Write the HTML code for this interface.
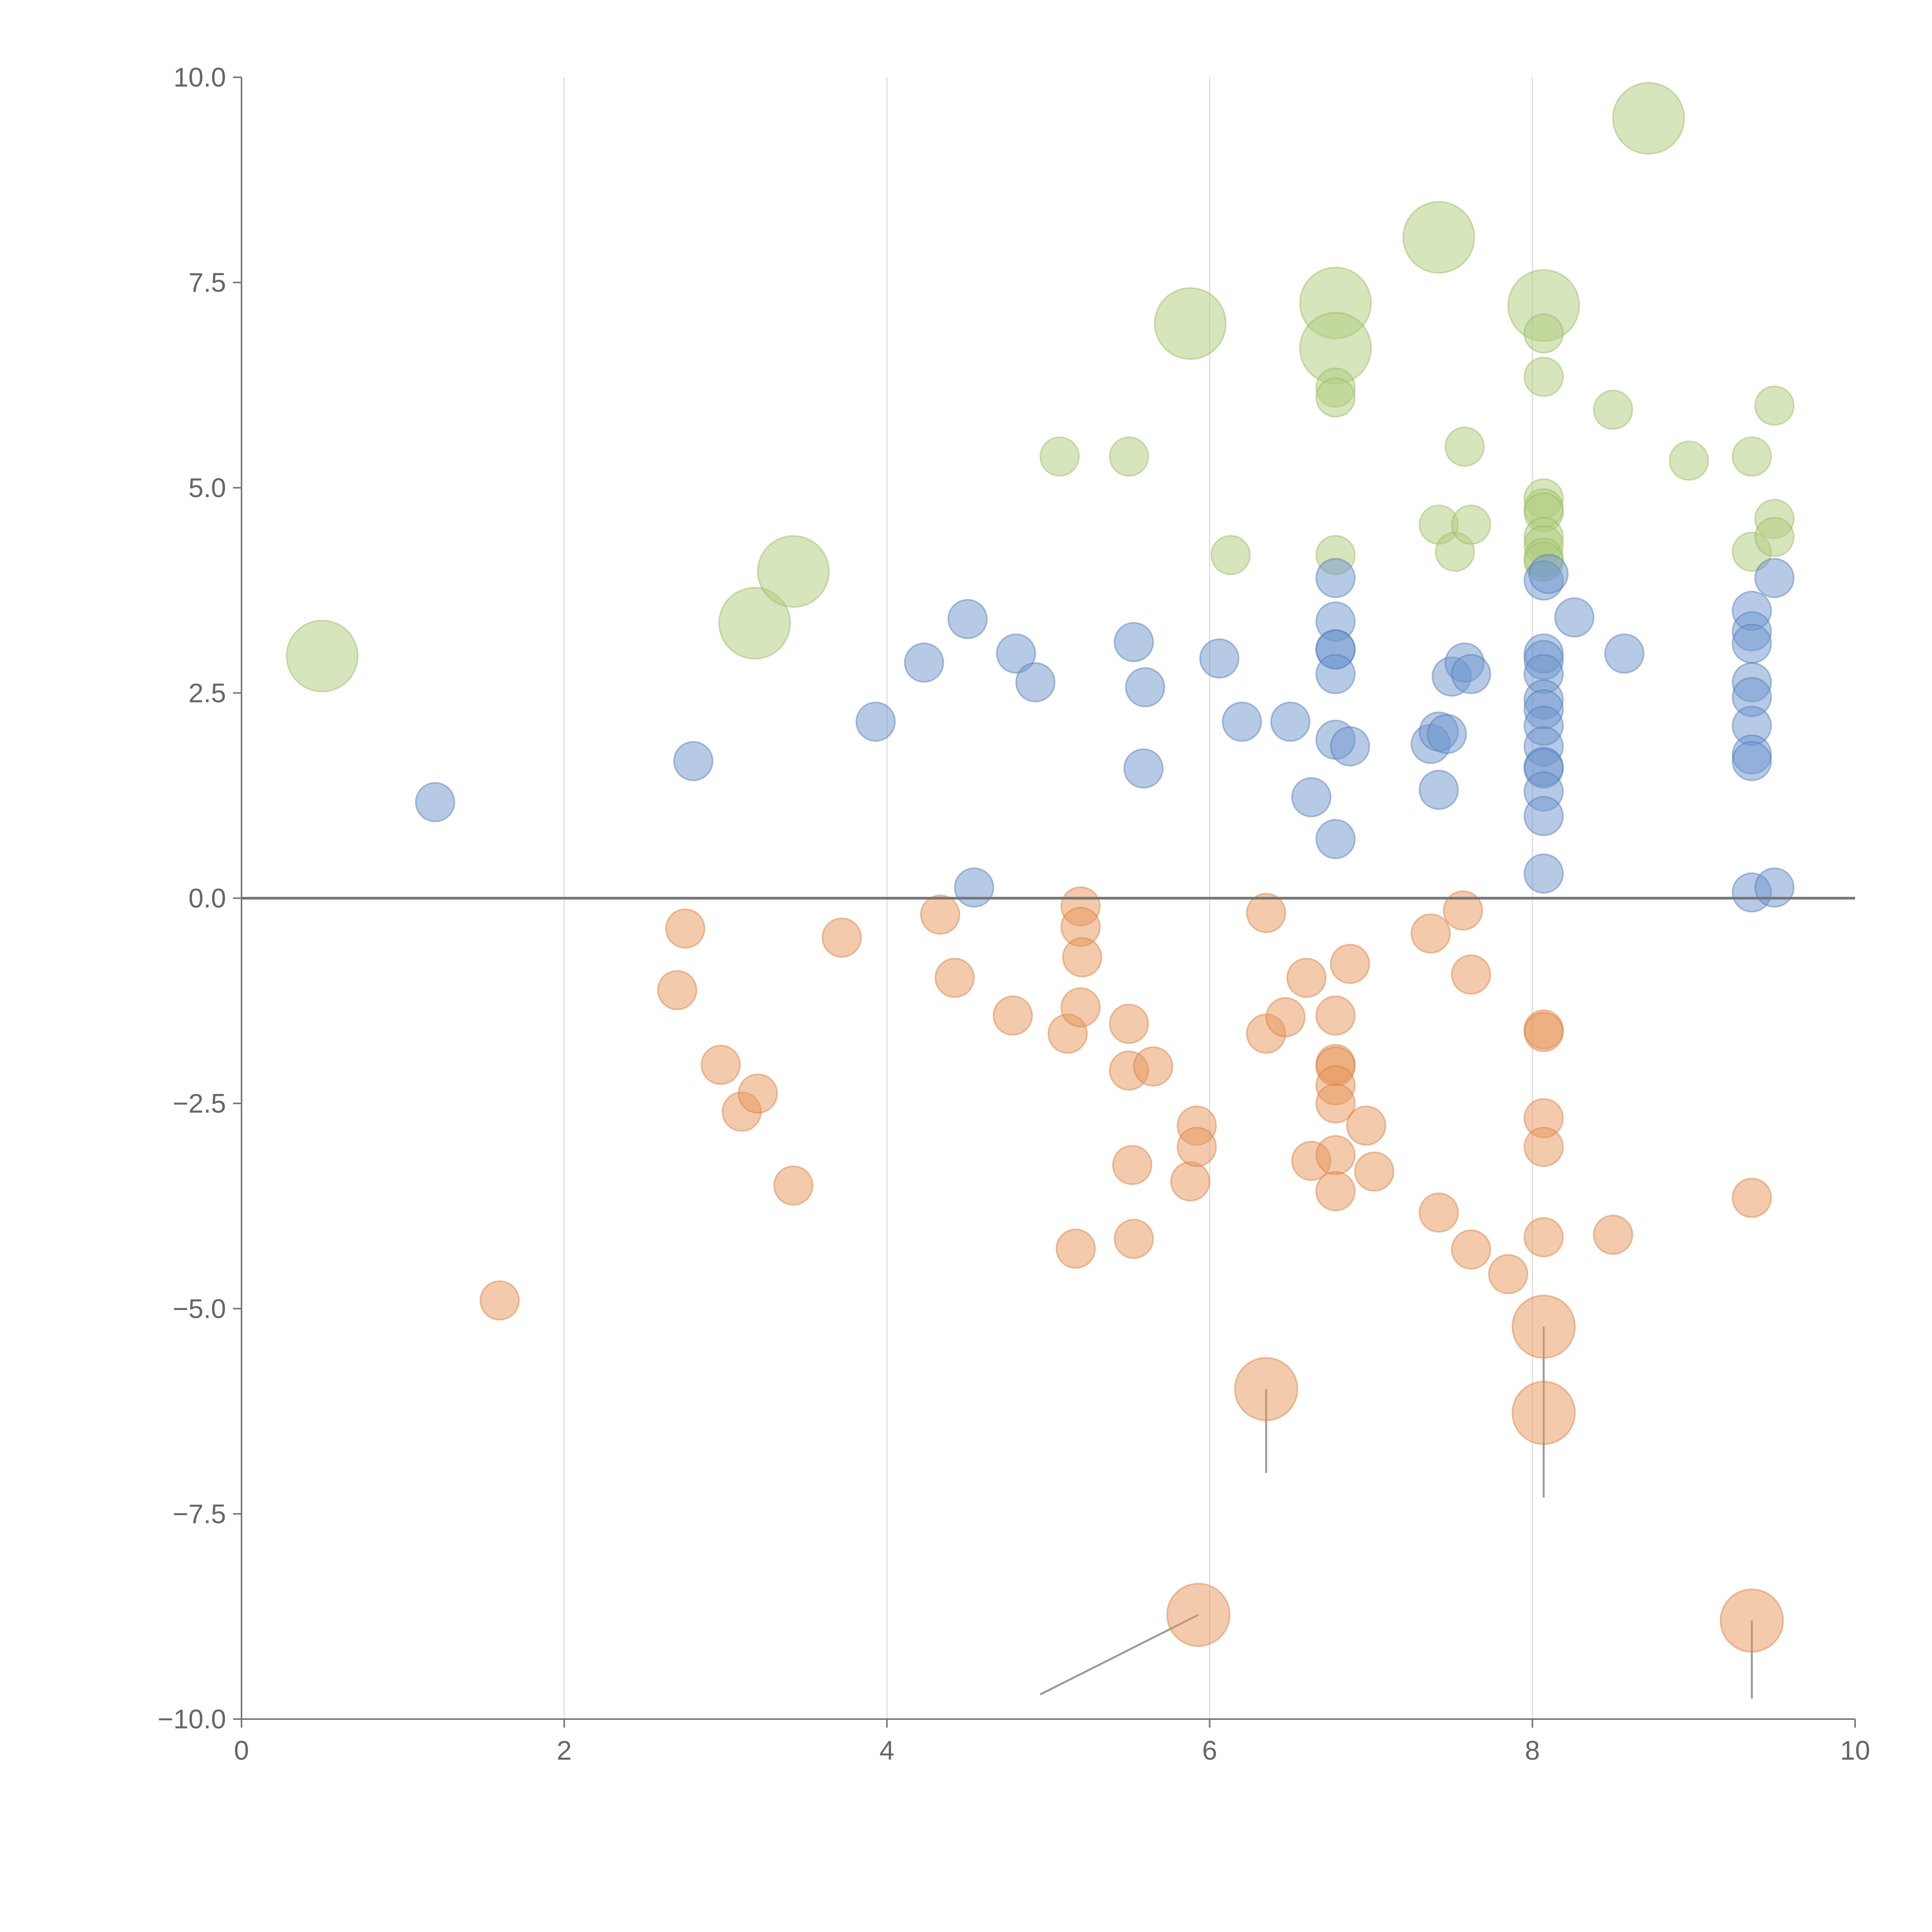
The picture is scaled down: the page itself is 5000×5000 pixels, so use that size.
<!DOCTYPE html>
<html><head><meta charset="utf-8"><style>
html,body{margin:0;padding:0;background:#fff;width:5000px;height:5000px;overflow:hidden}
svg{display:block}
svg text{font-family:"Liberation Sans",sans-serif;fill:#666}
</style></head><body>
<svg id="chart" width="5000" height="5000" viewBox="0 0 5000 5000" xmlns="http://www.w3.org/2000/svg"></svg>
<script>
const xTicks=[0,2,4,6,8,10];
const xTickLabels=["0","2","4","6","8","10"];
const yTicks=[10,7.5,5,2.5,0,-2.5,-5,-7.5,-10];
const yTickLabels=["10.0","7.5","5.0","2.5","0.0","\u22122.5","\u22125.0","\u22127.5","\u221210.0"];
const blueX=[1.2,2.8,3.93,4.23,4.5,4.8,4.92,4.54,5.53,5.6,5.59,6.06,6.2,6.5,6.63,6.78,6.78,6.78,6.78,6.78,6.78,6.87,6.78,7.37,7.42,7.47,7.42,7.5,7.58,7.62,8.07,8.1,8.07,8.07,8.07,8.07,8.07,8.07,8.07,8.07,8.07,8.07,8.07,8.07,8.26,8.57,9.36,9.36,9.36,9.36,9.36,9.36,9.36,9.36,9.36,9.5,9.5];
const blueY=[1.17,1.67,2.15,2.87,3.4,2.98,2.63,0.13,3.12,2.57,1.58,2.92,2.15,2.15,1.23,3.9,3.37,3.03,3.03,2.73,1.93,1.85,0.72,1.88,2.03,2.0,1.32,2.7,2.87,2.73,3.87,3.95,2.98,2.9,2.73,2.42,2.3,2.1,1.85,1.6,1.58,1.3,1.0,0.3,3.42,2.98,3.5,3.25,3.1,2.63,2.45,2.1,1.75,1.67,0.07,3.9,0.13];
const orangeX=[1.6,2.7,2.75,2.97,3.1,3.2,3.42,3.72,4.33,4.42,4.78,5.12,5.17,5.2,5.2,5.21,5.2,5.5,5.5,5.52,5.53,5.65,5.88,5.92,5.92,6.35,6.35,6.47,6.6,6.63,6.78,6.78,6.78,6.78,6.78,6.78,6.78,6.87,6.97,7.02,7.37,7.42,7.57,7.62,7.62,7.85,8.07,8.07,8.07,8.07,8.07,8.5,9.36];
const orangeY=[-4.9,-1.12,-0.37,-2.03,-2.6,-2.38,-3.5,-0.48,-0.2,-0.97,-1.43,-1.65,-4.27,-0.1,-0.35,-0.72,-1.33,-1.53,-2.1,-3.25,-4.15,-2.05,-3.45,-2.77,-3.03,-0.18,-1.65,-1.45,-0.97,-3.2,-1.43,-2.02,-2.05,-2.28,-2.5,-3.13,-3.57,-0.8,-2.77,-3.33,-0.43,-3.83,-0.15,-0.93,-4.28,-4.58,-1.6,-1.63,-2.68,-3.03,-4.13,-4.1,-3.65];
const orangeBigX=[5.93,6.35,8.07,8.07,9.36];
const orangeBigY=[-8.73,-5.98,-5.22,-6.27,-8.8];
const greenX=[5.07,5.5,6.13,6.78,6.78,6.78,7.42,7.52,7.58,7.62,8.07,8.07,8.07,8.07,8.07,8.07,8.07,8.07,8.07,8.5,8.97,9.36,9.36,9.5,9.5,9.5];
const greenY=[5.38,5.38,4.18,6.22,6.1,4.18,4.55,4.22,5.5,4.55,6.88,6.35,4.87,4.75,4.7,4.4,4.3,4.15,4.1,5.95,5.33,5.38,4.22,6.0,4.62,4.4];
const greenBigX=[0.5,3.18,3.42,5.88,6.78,6.78,7.42,8.07,8.72];
const greenBigY=[2.95,3.35,3.98,7.0,7.25,6.7,8.05,7.22,9.5];

const L=625,R=4801,T=200,B=4449;
const sx=v=>L+(v-0)/(10-0)*(R-L);
const sy=v=>B-(v+10)/20*(B-T);
const NS="http://www.w3.org/2000/svg";
const svg=document.getElementById('chart');
function mk(tag,attrs,parent){const e=document.createElementNS(NS,tag);for(const k in attrs)e.setAttribute(k,attrs[k]);(parent||svg).appendChild(e);return e;}

const grid=mk('g',{});


xTicks.forEach((t,i)=>{
  if(t>0&&t<10){const l=mk('line',{x1:sx(t),x2:sx(t),y1:T,y2:B,stroke:'#dcdcdc','stroke-width':3},grid);
  
  }
});
const axes=mk('g',{});


const ya=mk('line',{x1:L,x2:L,y1:T,y2:B,stroke:'#777','stroke-width':4},axes);


const xa=mk('line',{x1:L,x2:R,y1:B,y2:B,stroke:'#777','stroke-width':4},axes);


xTicks.forEach((t,i)=>{
  const tk=mk('line',{x1:sx(t),x2:sx(t),y1:B,y2:B+22,stroke:'#777','stroke-width':4},axes);
  
  
  const tx=mk('text',{x:sx(t),y:B+105,'font-size':70,'text-anchor':'middle'},axes);
  tx.textContent=xTickLabels[i];
  
  
});
yTicks.forEach((t,i)=>{
  const tk=mk('line',{x1:L-22,x2:L,y1:sy(t),y2:sy(t),stroke:'#777','stroke-width':4},axes);
  
  
  const tx=mk('text',{x:L-40,y:sy(t)+24,'font-size':70,'text-anchor':'end'},axes);
  tx.textContent=yTickLabels[i];
  
  
});
const leaders=mk('g',{stroke:'#999','stroke-width':5});


[[5.93,-8.73,4.95,-9.7],[6.35,-5.98,6.35,-7.0],[8.07,-5.22,8.07,-6.6],[8.07,-6.27,8.07,-7.3],[9.36,-8.8,9.36,-9.75]].forEach(a=>{
  const l=mk('line',{x1:sx(a[0]),y1:sy(a[1]),x2:sx(a[2]),y2:sy(a[3])},leaders);
  
  
});

function series(xs,ys,r,fill,stroke,name){
  const g=mk('g',{});
  
  
  xs.forEach((x,i)=>{
    const c=mk('circle',{cx:sx(x),cy:sy(ys[i]),r:r,fill:fill,stroke:stroke,'stroke-width':4},g);
    
    
  });
}
series(greenBigX,greenBigY,92,'rgba(176,204,124,0.5)','rgba(150,185,95,0.45)','green-large');
series(greenX,greenY,50,'rgba(176,204,124,0.5)','rgba(150,185,95,0.45)','green');
series(blueX,blueY,50,'rgba(110,150,205,0.5)','rgba(80,120,185,0.45)','blue');
series(orangeX,orangeY,50,'rgba(232,150,90,0.5)','rgba(215,125,65,0.45)','orange');
series(orangeBigX,orangeBigY,81,'rgba(232,150,90,0.5)','rgba(215,125,65,0.45)','orange-large');

const zl=mk('line',{x1:L,x2:R,y1:sy(0),y2:sy(0),stroke:'#777','stroke-width':7});


</script>
</body></html>
